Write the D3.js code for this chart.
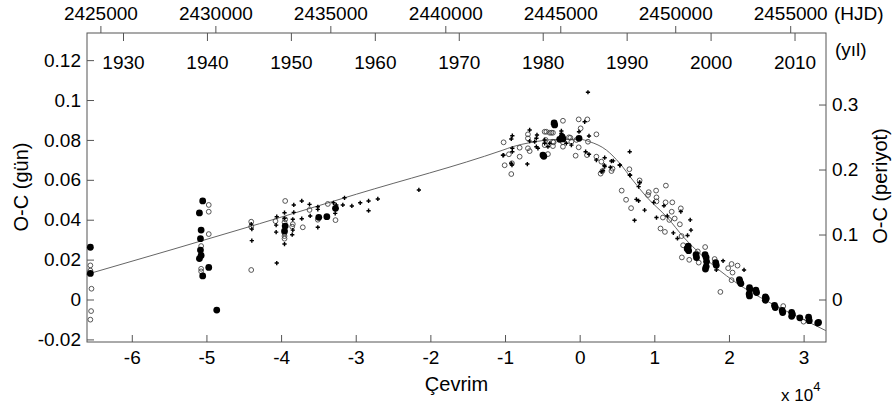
<!DOCTYPE html>
<html>
<head>
<meta charset="utf-8">
<script src="https://cdn.jsdelivr.net/npm/d3@7"></script>
<style>
  body { margin: 0; background: #fff; }
  svg { display: block; }
  text { font-family: "Liberation Sans", Arial, sans-serif; fill: #000; }
</style>
</head>
<body>
<svg id="chart" width="893" height="407"></svg>
<script>
// cycle E in units of 1e4, O-C in days
const filledPts = [
  [-6.555, 0.0262], [-6.555, 0.0131],
  [-5.05, 0.0494], [-5.094, 0.0434], [-5.071, 0.0348], [-5.08, 0.0305], [-5.08, 0.0248],
  [-5.071, 0.0221], [-5.094, 0.0205], [-4.969, 0.0161], [-5.05, 0.0118], [-4.862, -0.0053],
  [-3.495, 0.0412], [-3.387, 0.0415], [-3.271, 0.0457], [-3.945, 0.0368], [-3.954, 0.0343],
  [-0.342, 0.0885], [-0.335, 0.0875], [-0.235, 0.0815], [-0.224, 0.0805], [-0.268, 0.0803],
  [-0.009, 0.0808], [-0.492, 0.0724], [-0.48, 0.0718],
  [1.454, 0.0267], [1.44, 0.0255], [1.46, 0.0245], [1.559, 0.0225], [1.565, 0.021],
  [1.694, 0.0211], [1.70, 0.019], [1.68, 0.0225], [1.685, 0.0153], [1.695, 0.0165],
  [1.822, 0.0185], [1.83, 0.0172], [2.147, 0.0089], [2.14, 0.0100], [2.16, 0.0080],
  [2.275, 0.0059], [2.28, 0.0050], [2.275, 0.0018], [2.27, 0.0028], [2.361, 0.0047],
  [2.37, 0.0035], [2.487, 0.0013], [2.487, -0.0004], [2.50, 0.0005], [2.61, -0.0030],
  [2.62, -0.0040], [2.713, -0.0055], [2.72, -0.0065], [2.84, -0.0064], [2.84, -0.0084],
  [2.85, -0.0075], [2.949, -0.0092], [3.067, -0.0089], [3.076, -0.0106], [3.189, -0.0118],
  [3.20, -0.0115]
];

const openPts = [
  [-6.555, 0.0171], [-6.555, 0.0145], [-6.54, 0.0054], [-6.545, -0.0058], [-6.555, -0.0101],
  [-4.969, 0.0474], [-4.969, 0.0440], [-4.969, 0.0328], [-5.071, 0.0268], [-5.071, 0.0154],
  [-5.071, 0.0141],
  [-4.40, 0.0390], [-4.40, 0.0365], [-4.40, 0.0148],
  [-3.945, 0.0494], [-3.619, 0.0449], [-4.075, 0.0393], [-3.945, 0.0402], [-3.954, 0.0387],
  [-3.843, 0.0378], [-3.851, 0.0365], [-3.709, 0.0362], [-3.954, 0.0332], [-3.954, 0.0318],
  [-3.954, 0.0305], [-3.374, 0.0479], [-3.271, 0.0398], [-3.508, 0.0400],
  [-0.948, 0.0728], [-1.005, 0.0673], [-0.916, 0.0629], [-0.804, 0.0716],
  [-0.224, 0.0896], [-0.013, 0.0903], [0.103, 0.0903], [0.013, 0.0858], [-0.693, 0.0828],
  [-0.446, 0.0841], [-0.379, 0.0836], [-0.358, 0.0836], [0.224, 0.0828], [-0.125, 0.0811],
  [-1.019, 0.0788], [-0.693, 0.0808], [-0.358, 0.0791], [-0.044, 0.0800], [-0.111, 0.0791],
  [0.111, 0.0791], [-0.224, 0.0788], [-0.013, 0.0763], [-0.804, 0.0761], [-0.693, 0.0758],
  [-0.469, 0.0774], [-0.224, 0.0766], [-0.456, 0.0800], [-0.143, 0.0813], [-0.670, 0.0744],
  [-0.425, 0.0729], [0.098, 0.0724], [-0.054, 0.0721], [0.224, 0.0716], [-0.907, 0.0683],
  [0.291, 0.0691], [-0.469, 0.0841], [-0.402, 0.0836], [-0.349, 0.0788], [-0.358, 0.0769],
  [0.440, 0.0656], [0.426, 0.0644], [0.304, 0.0644], [0.281, 0.0631], [0.666, 0.0653],
  [0.803, 0.0597], [0.563, 0.0546], [0.622, 0.0500], [0.689, 0.0458], [0.925, 0.0538],
  [0.916, 0.0524], [1.024, 0.0546], [1.029, 0.0512], [1.029, 0.0492], [1.155, 0.0571],
  [1.151, 0.0487], [1.241, 0.0487], [1.355, 0.0457], [1.233, 0.0440], [1.115, 0.0411],
  [1.201, 0.0399], [1.273, 0.0406], [1.083, 0.0356], [1.142, 0.0339], [1.342, 0.0377],
  [1.365, 0.0318], [1.386, 0.0272], [1.369, 0.0211], [1.468, 0.0199], [1.582, 0.0241],
  [1.595, 0.0185], [1.681, 0.0263], [1.808, 0.0203], [1.989, 0.0157], [2.035, 0.0178],
  [2.115, 0.0170], [2.048, 0.0135], [1.885, 0.0038], [2.035, 0.0097], [2.727, -0.0033],
  [2.850, -0.0080], [2.999, -0.0111]
];

const plusPts = [
  [-4.40, 0.0378], [-4.392, 0.0353], [-4.392, 0.0295],
  [-3.830, 0.0474], [-3.723, 0.0494], [-3.619, 0.0477], [-3.508, 0.0465], [-3.508, 0.0452],
  [-3.830, 0.0437], [-3.954, 0.0435], [-4.058, 0.0415], [-3.723, 0.0405], [-3.610, 0.0419],
  [-3.954, 0.0407], [-3.843, 0.0402], [-4.066, 0.0373], [-3.508, 0.0362], [-3.843, 0.0348],
  [-4.066, 0.0338], [-3.851, 0.0325], [-3.954, 0.0278], [-4.058, 0.0183], [-3.298, 0.0485],
  [-3.261, 0.0474], [-3.275, 0.0432], [-3.150, 0.0510], [-3.173, 0.0474], [-3.052, 0.0469],
  [-2.940, 0.0485], [-2.828, 0.0494], [-2.828, 0.0445], [-2.704, 0.0504], [-2.154, 0.0549],
  [-1.028, 0.0723], [-0.902, 0.0741], [-0.916, 0.0683],
  [0.111, 0.1039], [0.067, 0.0891], [-0.358, 0.0878], [-0.009, 0.0841], [-0.670, 0.0850],
  [-0.245, 0.0845], [0.125, 0.0820], [-0.572, 0.0825], [-0.902, 0.0821], [-0.916, 0.0805],
  [-0.670, 0.0794], [-0.580, 0.0808], [-0.469, 0.0800], [-0.402, 0.0783], [-0.178, 0.0783],
  [0, 0.0808], [-0.111, 0.0774], [-0.902, 0.0758], [-0.580, 0.0766], [-0.425, 0.0766],
  [-1.019, 0.0724], [-0.492, 0.0724], [-0.469, 0.0716], [0.080, 0.0741], [0.125, 0.0728],
  [0.335, 0.0711], [0.224, 0.0699], [-0.907, 0.0674], [-0.701, 0.0679], [0.425, 0.0694],
  [0.536, 0.0674], [0.670, 0.0741], [0.335, 0.0666], [0.291, 0.0641], [0.312, 0.0646],
  [0.412, 0.0663], [0.670, 0.0624], [0.804, 0.0585], [0.760, 0.0502], [-0.245, 0.0833],
  [-0.245, 0.0808], [-0.603, 0.0791], [-0.559, 0.0758], [-0.469, 0.0783],
  [0.331, 0.0673], [0.449, 0.0695], [0.540, 0.0673], [0.676, 0.0623], [0.790, 0.0566],
  [0.803, 0.0587], [0.735, 0.0397], [0.790, 0.0495], [0.870, 0.0448], [0.992, 0.0487],
  [1.129, 0.0470], [1.355, 0.0441], [1.029, 0.0411], [1.174, 0.0419], [1.255, 0.0334],
  [1.481, 0.0399], [1.491, 0.0348], [1.310, 0.0306], [1.445, 0.0321], [1.831, 0.0148],
  [1.921, 0.0194], [2.202, 0.0148]
];

// fitted curve
const fitE  = [-6.605, -4.29, -2.99, -1.028, -0.898, -0.670, -0.268, 0, 0.134, 0.358, 0.536, 0.710, 0.894, 1.174, 1.401, 1.627, 2.078, 2.534, 2.985, 3.298];
const fitOC = [0.0126, 0.0380, 0.0528, 0.0749, 0.0766, 0.0786, 0.0803, 0.0803, 0.0791, 0.0749, 0.0683, 0.0599, 0.0515, 0.0411, 0.0309, 0.0225, 0.0089, -0.0013, -0.0098, -0.0156];

const leftTicks  = [-0.02, 0, 0.02, 0.04, 0.06, 0.08, 0.1, 0.12];
const rightTicks = [0, 0.1, 0.2, 0.3];
const cycleTicks = [-6, -5, -4, -3, -2, -1, 0, 1, 2, 3];
const hjdTicks   = [2425000, 2430000, 2435000, 2440000, 2445000, 2450000, 2455000];
const yearTicks  = [1930, 1940, 1950, 1960, 1970, 1980, 1990, 2000, 2010];
const period = 0.3258; // days, for the periyot axis

const box = { left: 87, right: 826, top: 33, bottom: 342 };
const svg = d3.select("#chart");

const x = d3.scaleLinear().domain([-6.6, 3.3]).range([box.left, box.right]);
const y = d3.scaleLinear().domain([-0.0213, 0.1336]).range([box.bottom, box.top]);
const yR = d3.scaleLinear().domain(y.domain().map(d => d / period)).range([box.bottom, box.top]);
const xHjd = d3.scaleLinear().domain([2424417, 2456557]).range([box.left, box.right]);
const xYear = d3.scaleLinear().domain([1925.71, 2013.75]).range([box.left, box.right]);

// plain hyphen minus, like the original
const fmt = d => String(+d.toFixed(2));

const styleAxis = (g) => {
  g.select(".domain").remove();
  g.selectAll(".tick line").attr("stroke", "#555");
  g.selectAll(".tick text").attr("font-size", 19).attr("fill", "#000");
};

// left
svg.append("g")
  .attr("transform", `translate(${box.left},0)`)
  .call(d3.axisLeft(y).tickValues(leftTicks).tickFormat(fmt).tickSize(-7).tickPadding(6))
  .call(styleAxis);

// right
svg.append("g")
  .attr("transform", `translate(${box.right},0)`)
  .call(d3.axisRight(yR).tickValues(rightTicks).tickFormat(fmt).tickSize(-7).tickPadding(6))
  .call(styleAxis);

// bottom
svg.append("g")
  .attr("transform", `translate(0,${box.bottom})`)
  .call(d3.axisBottom(x).tickValues(cycleTicks).tickFormat(fmt).tickSize(-7).tickPadding(9))
  .call(styleAxis);

// top HJD (outside)
svg.append("g")
  .attr("transform", `translate(0,${box.top})`)
  .call(d3.axisTop(xHjd).tickValues(hjdTicks).tickFormat(String).tickSize(7).tickPadding(6))
  .call(styleAxis);

// top years (inside)
svg.append("g")
  .attr("transform", `translate(0,${box.top})`)
  .call(d3.axisBottom(xYear).tickValues(yearTicks).tickFormat(String).tickSize(8).tickPadding(15))
  .call(styleAxis);

// frame
svg.append("rect")
  .attr("x", box.left).attr("y", box.top)
  .attr("width", box.right - box.left).attr("height", box.bottom - box.top)
  .attr("fill", "none").attr("stroke", "#555").attr("stroke-width", 1);

// fit line
const fitData = fitE.map((e, i) => [e, fitOC[i]]);
svg.append("path")
  .datum(fitData)
  .attr("fill", "none")
  .attr("stroke", "#666")
  .attr("stroke-width", 1)
  .attr("d", d3.line().x(d => x(d[0])).y(d => y(d[1])).curve(d3.curveMonotoneX));

// points
svg.append("g").selectAll("circle")
  .data(openPts).enter().append("circle")
  .attr("cx", d => x(d[0])).attr("cy", d => y(d[1])).attr("r", 2.4)
  .attr("fill", "none").attr("stroke", "#444").attr("stroke-width", 0.9);

svg.append("g").selectAll("path")
  .data(plusPts).enter().append("path")
  .attr("transform", d => `translate(${x(d[0])},${y(d[1])})`)
  .attr("d", d3.symbol().type(d3.symbolCross).size(10))
  .attr("fill", "#000");

svg.append("g").selectAll("circle")
  .data(filledPts).enter().append("circle")
  .attr("cx", d => x(d[0])).attr("cy", d => y(d[1])).attr("r", 3.4)
  .attr("fill", "#000");

// labels
svg.append("text")
  .attr("transform", `translate(28,187) rotate(-90)`)
  .attr("text-anchor", "middle").attr("font-size", 20)
  .text("O-C (gün)");

svg.append("text")
  .attr("transform", `translate(887,186) rotate(-90)`)
  .attr("text-anchor", "middle").attr("font-size", 20)
  .text("O-C (periyot)");

svg.append("text")
  .attr("x", (box.left + box.right) / 2).attr("y", 391)
  .attr("text-anchor", "middle").attr("font-size", 20)
  .text("Çevrim");

const sci = svg.append("text").attr("x", 781).attr("y", 401).attr("font-size", 17);
sci.append("tspan").text("x 10");
sci.append("tspan").attr("dy", -10).attr("font-size", 13).text("4");

svg.append("text").attr("x", 834).attr("y", 20).attr("font-size", 19).text("(HJD)");
svg.append("text").attr("x", 835).attr("y", 56).attr("font-size", 19).text("(yıl)");
</script>
</body>
</html>
